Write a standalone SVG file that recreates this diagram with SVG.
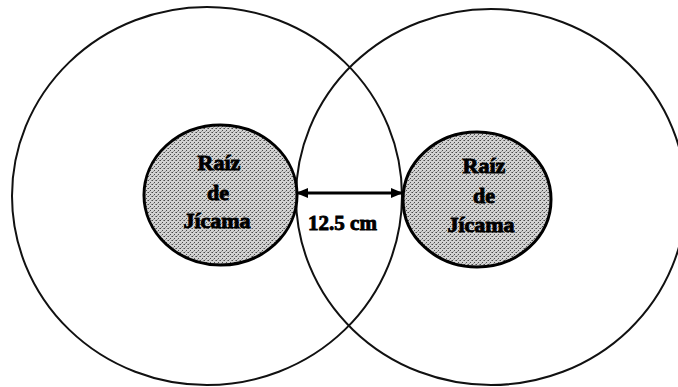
<svg xmlns="http://www.w3.org/2000/svg" width="678" height="387" viewBox="0 0 678 387">
  <style>
    .zone { fill: none; stroke: #111; stroke-width: 2; }
    .root { fill: url(#stipple); stroke: #000; stroke-width: 3; }
    .lbl { font-family: "Liberation Serif", "Times New Roman", serif; font-weight: bold; font-size: 22px; fill: #000; stroke: #000; stroke-width: 0.9; text-anchor: middle; }
    .dim { stroke: #000; stroke-width: 3; fill: none; }
  </style>
  <defs>
    <!-- grainy grey fill for the root sections -->
    <pattern id="stipple" width="4" height="4" patternUnits="userSpaceOnUse">
      <rect width="4" height="4" fill="#d2d2d2"/>
      <rect x="0" y="0" width="1" height="1" fill="#4a4a4a"/>
      <rect x="2" y="2" width="1" height="1" fill="#4a4a4a"/>
      <rect x="3" y="0" width="1" height="1" fill="#888"/>
      <rect x="1" y="3" width="1" height="1" fill="#999"/>
    </pattern>
    <marker id="head" viewBox="0 0 12 10" refX="11" refY="5" markerWidth="12" markerHeight="10" markerUnits="userSpaceOnUse" orient="auto-start-reverse">
      <path d="M0,0 L12,5 L0,10 Z" fill="#000"/>
    </marker>
  </defs>

  <!-- influence zones around each root -->
  <g id="zone-left">
    <ellipse class="zone" cx="207" cy="196" rx="195" ry="189"/>
  </g>
  <g id="zone-right">
    <ellipse class="zone" cx="491" cy="197" rx="195" ry="188"/>
  </g>

  <!-- roots -->
  <g id="root-left">
    <ellipse class="root" cx="220.5" cy="195" rx="76.5" ry="70"/>
    <text class="lbl" x="219" y="170">Raíz</text>
    <text class="lbl" x="218" y="200">de</text>
    <text class="lbl" x="217" y="228">Jícama</text>
  </g>
  <g id="root-right">
    <ellipse class="root" cx="477" cy="199.5" rx="74" ry="67.5"/>
    <text class="lbl" x="484" y="173">Raíz</text>
    <text class="lbl" x="484" y="203">de</text>
    <text class="lbl" x="481" y="232">Jícama</text>
  </g>

  <!-- spacing dimension between the roots -->
  <g id="connectors">
    <line class="dim" x1="297" y1="193" x2="402" y2="193" marker-start="url(#head)" marker-end="url(#head)"/>
    <text class="lbl" x="342.5" y="230" style="font-size:21px">12.5 cm</text>
  </g>
</svg>
